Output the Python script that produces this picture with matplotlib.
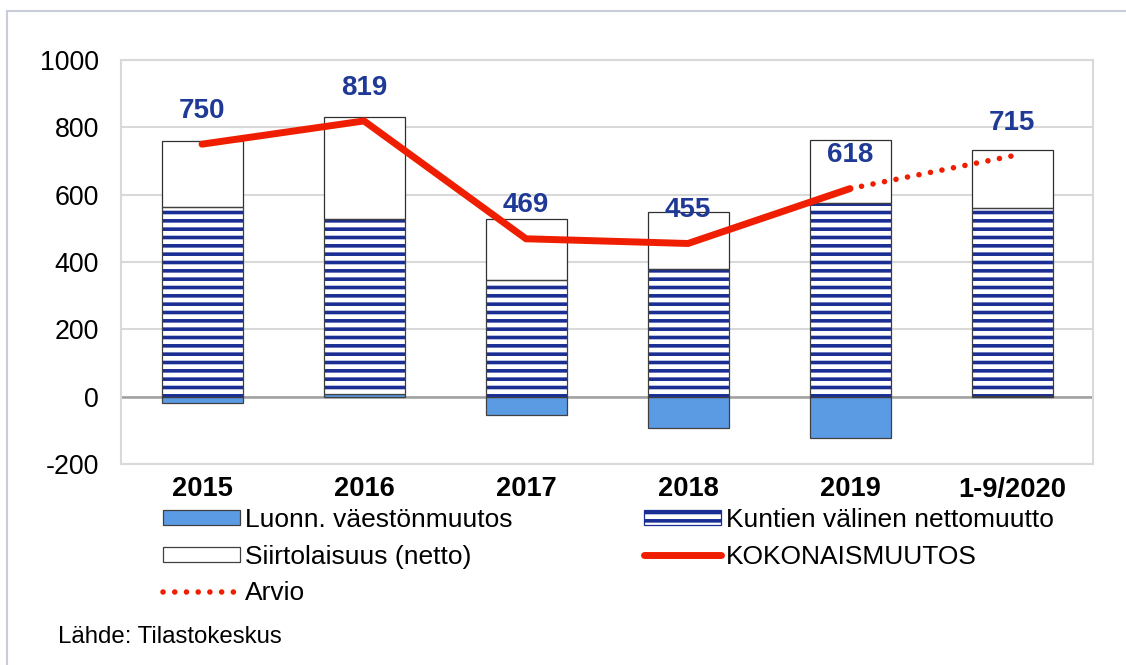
import numpy as np
import matplotlib.pyplot as plt
from matplotlib.patches import Patch, Rectangle
from matplotlib.lines import Line2D

# -----------------------
# Data
# -----------------------
years = ["2015", "2016", "2017", "2018", "2019", "1-9/2020"]
natural = [-20, 8, -55, -92, -124, 3]          # Luonn. väestönmuutos
municipal = [564, 520, 347, 379, 576, 556]     # Kuntien välinen nettomuutto
migration = [195, 303, 180, 169, 186, 173]     # Siirtolaisuus (netto)
total = [750, 819, 469, 455, 618]              # KOKONAISMUUTOS
estimate = [618, 715]                          # Arvio (2019 -> 1-9/2020)

BLUE = "#5b9be4"
NAVY = "#1a2e94"
LABEL = "#1f3a96"
RED = "#f01e00"
GRID = "#d9d9d9"
DOTS = (0, (0.01, 2.1))

plt.rcParams["font.family"] = ["Liberation Sans", "DejaVu Sans"]
plt.rcParams["hatch.linewidth"] = 2.6
plt.rcParams["axes.unicode_minus"] = False

fig = plt.figure(figsize=(11.26, 6.65), dpi=100)
W, H = 1126, 665
ax = fig.add_axes([121 / W, 1 - 464 / H, (1093 - 121) / W, (464 - 60) / H])

x = np.arange(len(years))
nat = np.array(natural)
base = np.clip(nat, 0, None)
mun = np.array(municipal)
mig = np.array(migration)
bw = 0.5

# bars
ax.bar(x, nat, bw, color=BLUE, edgecolor="#404040", linewidth=0.9, zorder=3)
ax.bar(x, mun, bw, bottom=base, color="white", edgecolor=NAVY,
       hatch="--", linewidth=0, zorder=3)
ax.bar(x, mun, bw, bottom=base, fill=False, edgecolor="#404040",
       linewidth=0.9, zorder=4)
ax.bar(x, mig, bw, bottom=base + mun, color="white", edgecolor="#303030",
       linewidth=0.9, zorder=3)

# lines
ax.plot(x[:len(total)], total, color=RED, lw=5, solid_capstyle="round",
        solid_joinstyle="miter", zorder=5)
ax.plot(x[4:6], estimate, color=RED, lw=4, linestyle=DOTS,
        dash_capstyle="round", zorder=5)

# value labels
for xi, v in zip(x[:len(total)], total):
    ax.annotate(str(v), (xi, v), xytext=(0, 24), textcoords="offset points",
                ha="center", va="center", fontsize=20, fontweight="bold",
                color=LABEL, zorder=6)
ax.annotate(str(estimate[-1]), (x[5], estimate[-1]), xytext=(0, 24),
            textcoords="offset points", ha="center", va="center",
            fontsize=20, fontweight="bold", color=LABEL, zorder=6)

# axes styling
ax.set_xlim(-0.5, len(years) - 0.5)
ax.set_ylim(-200, 1000)
ax.set_yticks(np.arange(-200, 1001, 200))
ax.set_xticks(x)
ax.set_xticklabels(years, fontweight="bold", fontsize=19.6)
ax.tick_params(axis="y", length=0, pad=16, labelsize=19.3)
ax.tick_params(axis="x", length=0, pad=9)
ax.grid(axis="y", color=GRID, lw=1.5, zorder=0)
ax.axhline(0, color="#a0a0a0", lw=1.8, zorder=2)
for s in ax.spines.values():
    s.set_color(GRID)
    s.set_linewidth(1.5)

# legend
handles = [
    Patch(facecolor=BLUE, edgecolor="#404040", linewidth=0.9),
    Patch(facecolor="white", edgecolor="#404040", linewidth=0.9),
    Line2D([], [], color=RED, lw=4, linestyle=DOTS, dash_capstyle="round"),
    Patch(facecolor="white", edgecolor=NAVY, hatch="--", linewidth=0.9),
    Line2D([], [], color=RED, lw=5, solid_capstyle="round"),
]
labels = ["Luonn. väestönmuutos", "Siirtolaisuus (netto)", "Arvio",
          "Kuntien välinen nettomuutto", "KOKONAISMUUTOS"]
fig.legend(handles, labels, ncol=2, loc="upper left",
           bbox_to_anchor=(163 / W, 1 - 508 / H), frameon=False,
           fontsize=19, handlelength=2.9, handleheight=0.5,
           handletextpad=0.2, columnspacing=5.0, labelspacing=0.48,
           borderaxespad=0, borderpad=0)

fig.text(58 / W, 1 - 637 / H, "Lähde: Tilastokeskus", fontsize=17.3,
         va="center", ha="left")

# outer frame
fig.add_artist(Rectangle((7 / W, -0.05), 1.1, 1 - 11 / H + 0.05,
                         transform=fig.transFigure, fill=False,
                         edgecolor="#c9cdda", lw=1.5, clip_on=False))

fig.savefig("out.png", dpi=100)
